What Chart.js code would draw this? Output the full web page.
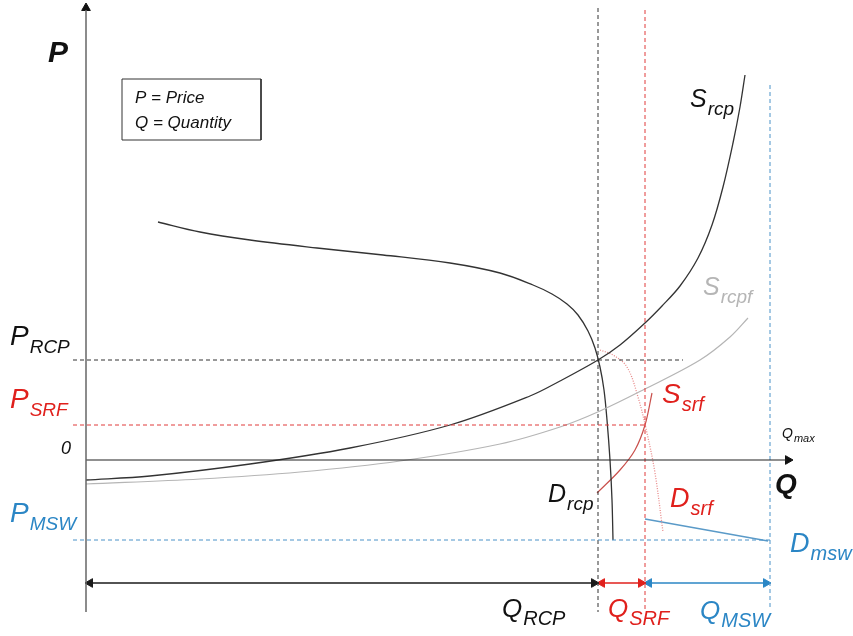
<!DOCTYPE html>
<html>
<head>
<meta charset="utf-8">
<script src="https://cdn.jsdelivr.net/npm/chart.js@4"></script>
<style>
  html, body { margin: 0; padding: 0; background: #fff; }
  #wrap { width: 853px; height: 636px; }
</style>
</head>
<body>
<div id="wrap"><canvas id="chart" width="853" height="636"></canvas></div>
<script>
// Ventana de ejes (Q horizontal, P vertical)
const Q_MIN = -8.6, Q_MAX = 76.7;
const P_MIN = -17.6, P_MAX = 46;

const sRcpQ = [0, 6.4, 16.4, 26.4, 36.4, 44.4, 47.4, 51.2, 53.4, 55.9, 57.6, 59.4, 61.2, 62.6, 63.7, 64.7, 65.4, 65.9];
const sRcpP = [-2.0, -1.6, -0.4, 1.2, 3.5, 6.4, 7.9, 10.0, 11.5, 13.7, 15.4, 17.4, 20.2, 23.5, 27.3, 31.7, 35.3, 38.5];

const sRcpfQ = [0, 11.4, 21.4, 31.4, 41.4, 47.4, 51.4, 55.7, 61.4, 64.4, 66.2];
const sRcpfP = [-2.4, -1.9, -1.2, -0.1, 1.6, 3.3, 4.9, 7.0, 10.0, 12.3, 14.2];

const dRcpQ = [7.2, 11.4, 16.4, 23.1, 29.7, 36.4, 41.4, 44.7, 46.6, 48.1, 49.2, 50.2, 50.9, 51.4, 51.8, 52.1, 52.4, 52.6, 52.7];
const dRcpP = [23.8, 22.8, 22.0, 21.2, 20.5, 19.7, 18.7, 17.5, 16.6, 15.6, 14.5, 12.9, 11.2, 9.3, 7.0, 4.0, 0.0, -4.0, -8.0];

const dSrfQ = [51.4, 52.7, 54.1, 55.2, 56.1, 56.9, 57.7];
const dSrfP = [11.0, 10.5, 9.3, 6.3, 2.7, -1.3, -7.2];

const sSrfQ = [51.1, 53.4, 54.9, 55.9, 56.6];
const sSrfP = [-3.3, -1.0, 1.0, 3.5, 6.7];

const dMswQ = [55.9, 68.2];
const dMswP = [-5.9, -8.1];

// Precios y cantidades de equilibrio
const P_RCP = 10.0, P_SRF = 3.5, P_MSW = -8.0;
const Q_RCP = 51.2, Q_SRF = 55.9, Q_MSW = 68.4;
const Q_AXIS_END = 70.6, P_AXIS_TOP = 45.0, AXIS_BOTTOM = -15.2;
const ARROW_ROW = -12.3;

function pts(qs, ps) {
  return qs.map((q, i) => ({ x: q, y: ps[i] }));
}

function line(data, color, width, dash, extra) {
  return Object.assign({
    data: data,
    showLine: true,
    borderColor: color,
    borderWidth: width,
    borderDash: dash || [],
    pointRadius: 0,
    fill: false
  }, extra || {});
}

function curve(qs, ps, color, width, dash) {
  return line(pts(qs, ps), color, width, dash, { tension: 0.35 });
}

// Punta de flecha: triángulo de Chart.js girado
function head(q, p, rot, color) {
  return {
    data: [{ x: q, y: p }],
    showLine: false,
    pointStyle: 'triangle',
    pointRadius: 5,
    pointRotation: rot,
    backgroundColor: color,
    borderColor: color,
    borderWidth: 1
  };
}

const BLACK = '#1a1a1a', RED = '#e0201c', BLUE = '#2b86c5', GRAY = '#b5b5b5';

const datasets = [
  // ejes
  line([{ x: 0, y: AXIS_BOTTOM }, { x: 0, y: P_AXIS_TOP }], '#666', 1.5),
  head(0, P_AXIS_TOP + 0.2, 0, '#111'),
  line([{ x: 0, y: 0 }, { x: Q_AXIS_END - 0.5, y: 0 }], '#222', 1.2),
  head(Q_AXIS_END - 0.4, 0, 90, '#111'),

  // líneas de precio
  line([{ x: -1.3, y: P_RCP }, { x: 59.7, y: P_RCP }], '#333', 1, [4, 3]),
  line([{ x: -1.3, y: P_SRF }, { x: Q_SRF, y: P_SRF }], '#e03a3a', 1, [4, 3]),
  line([{ x: -1.3, y: P_MSW }, { x: Q_MSW, y: P_MSW }], '#4a92c8', 1, [4, 3]),

  // líneas de cantidad
  line([{ x: Q_RCP, y: 45.2 }, { x: Q_RCP, y: AXIS_BOTTOM }], '#333', 1, [4, 3]),
  line([{ x: Q_SRF, y: 45.0 }, { x: Q_SRF, y: -15.0 }], '#e03a3a', 1, [4, 3]),
  line([{ x: Q_MSW, y: 37.5 }, { x: Q_MSW, y: -15.0 }], '#4a92c8', 1, [4, 3]),

  // curvas
  curve(sRcpfQ, sRcpfP, GRAY, 1.2),
  curve(sRcpQ, sRcpP, '#333', 1.3),
  curve(dRcpQ, dRcpP, '#333', 1.3),
  curve(dSrfQ, dSrfP, '#e88a8a', 1.3, [1, 1.5]),
  curve(sSrfQ, sSrfP, '#c9504c', 1.2),
  line(pts(dMswQ, dMswP), '#5a9ac8', 1.5),

  // flechas de cantidades
  line([{ x: 0.4, y: ARROW_ROW }, { x: Q_RCP - 0.4, y: ARROW_ROW }], BLACK, 1.3),
  head(0.4, ARROW_ROW, -90, BLACK),
  head(Q_RCP - 0.4, ARROW_ROW, 90, BLACK),
  line([{ x: Q_RCP + 0.4, y: ARROW_ROW }, { x: Q_SRF - 0.4, y: ARROW_ROW }], RED, 1.3),
  head(Q_RCP + 0.4, ARROW_ROW, -90, RED),
  head(Q_SRF - 0.4, ARROW_ROW, 90, RED),
  line([{ x: Q_SRF + 0.4, y: ARROW_ROW }, { x: Q_MSW - 0.4, y: ARROW_ROW }], BLUE, 1.3),
  head(Q_SRF + 0.4, ARROW_ROW, -90, BLUE),
  head(Q_MSW - 0.4, ARROW_ROW, 90, BLUE),

  // recuadro de la leyenda
  line([{ x: 3.6, y: 38.1 }, { x: 17.5, y: 38.1 }, { x: 17.5, y: 32.0 },
        { x: 3.6, y: 32.0 }, { x: 3.6, y: 38.1 }], '#333', 1)
];

const FONT = "'Liberation Sans', Arial, sans-serif";

// Etiquetas con subíndice
const textos = [
  { t: 'P', q: -3.8, p: 39.8, c: '#111', s: 30, bold: true },
  { t: 'Q', q: 68.9, p: -3.3, c: '#111', s: 28, bold: true },
  { t: 'P', sub: 'RCP', q: -7.6, p: 11.5, c: '#111', s: 28, ss: 19 },
  { t: 'P', sub: 'SRF', q: -7.6, p: 5.2, c: RED, s: 28, ss: 19 },
  { t: '0', q: -2.5, p: 0.6, c: '#111', s: 18 },
  { t: 'P', sub: 'MSW', q: -7.6, p: -6.2, c: BLUE, s: 28, ss: 19 },
  { t: 'Q', sub: 'RCP', q: 41.6, p: -15.7, c: '#111', s: 26, ss: 20 },
  { t: 'Q', sub: 'SRF', q: 52.2, p: -15.7, c: RED, s: 26, ss: 20 },
  { t: 'Q', sub: 'MSW', q: 61.4, p: -15.9, c: BLUE, s: 26, ss: 20 },
  { t: 'D', sub: 'msw', q: 70.4, p: -9.2, c: BLUE, s: 27, ss: 20 },
  { t: 'D', sub: 'rcp', q: 46.2, p: -4.2, c: '#111', s: 25, ss: 19 },
  { t: 'S', sub: 'srf', q: 57.6, p: 5.7, c: RED, s: 28, ss: 20 },
  { t: 'D', sub: 'srf', q: 58.4, p: -4.7, c: RED, s: 27, ss: 20 },
  { t: 'S', sub: 'rcp', q: 60.4, p: 35.3, c: '#111', s: 25, ss: 19 },
  { t: 'S', sub: 'rcpf', q: 61.7, p: 16.5, c: GRAY, s: 25, ss: 19 },
  { t: 'Q', sub: 'max', q: 69.6, p: 2.2, c: '#111', s: 14, ss: 11 },
  { t: 'P = Price', q: 4.9, p: 35.7, c: '#111', s: 17 },
  { t: 'Q = Quantity', q: 4.9, p: 33.2, c: '#111', s: 17 }
];

const textPlugin = {
  id: 'textos',
  afterDatasetsDraw(chart) {
    const ctx = chart.ctx;
    const xs = chart.scales.x, ys = chart.scales.y;
    ctx.save();
    ctx.textBaseline = 'alphabetic';
    ctx.textAlign = 'left';
    textos.forEach(l => {
      const x = xs.getPixelForValue(l.q);
      const y = ys.getPixelForValue(l.p);
      ctx.fillStyle = l.c;
      ctx.font = 'italic ' + (l.bold ? 'bold ' : '') + l.s + 'px ' + FONT;
      ctx.fillText(l.t, x, y);
      if (l.sub) {
        const w = ctx.measureText(l.t).width;
        ctx.font = 'italic ' + l.ss + 'px ' + FONT;
        ctx.fillText(l.sub, x + w + 1, y + Math.round(l.s * 0.3));
      }
    });
    ctx.restore();
  }
};

new Chart(document.getElementById('chart'), {
  type: 'scatter',
  data: { datasets: datasets },
  options: {
    responsive: false,
    animation: false,
    layout: { padding: 0, autoPadding: false },
    plugins: { legend: { display: false }, tooltip: { enabled: false } },
    scales: {
      x: { type: 'linear', min: Q_MIN, max: Q_MAX, display: false },
      y: { type: 'linear', min: P_MIN, max: P_MAX, display: false }
    }
  },
  plugins: [textPlugin]
});
</script>
</body>
</html>
